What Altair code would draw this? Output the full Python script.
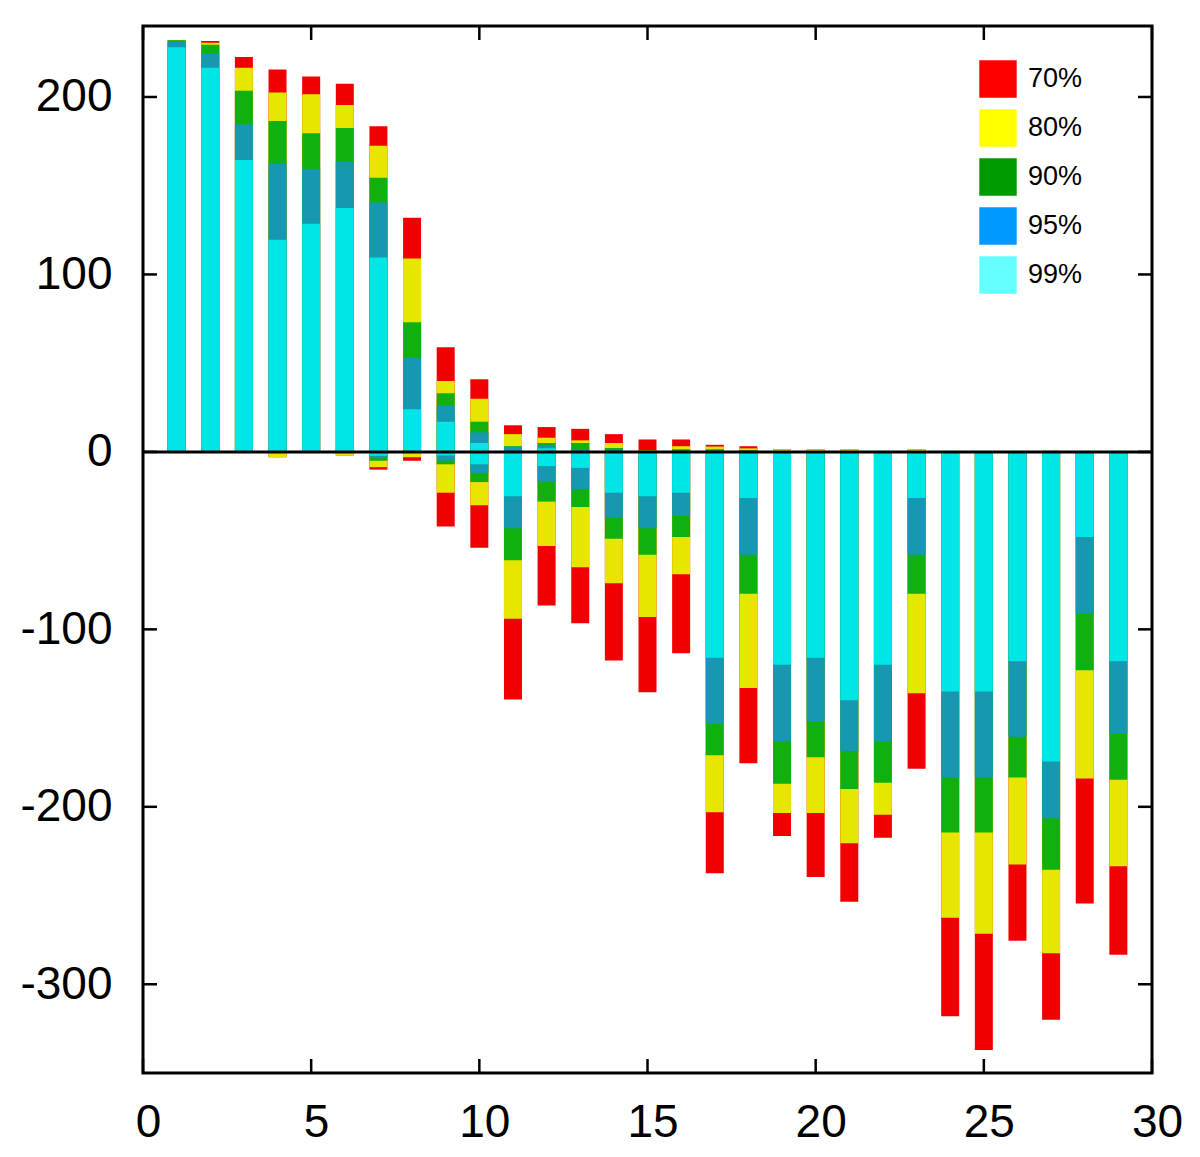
import altair as alt
import pandas as pd

# Bar positions (x)
positions = list(range(1, 30))

# Cumulative positive values (top of each band) per confidence level
pos99 = [228, 216.5, 164.5, 119.5, 128.5, 137.5, 109.5, 24, 17, 5, 0.5, 2, 0.5, 0.3, 0.3, 0.3, 0.5, 0.3, 0, 0, 0, 0, 0, 0, 0, 0, 0, 0, 0]
pos95 = [231, 224.5, 184.5, 162.5, 159.5, 163.5, 140.5, 53, 26, 11, 3, 3.5, 1.5, 1, 0.5, 0.8, 1, 0.5, 0, 0, 0, 0, 0, 0, 0, 0, 0, 0, 0]
pos90 = [232, 229.5, 203.5, 186.5, 179.5, 182.5, 154.5, 73, 33, 17, 3.2, 5, 5, 2.2, 0.7, 1.5, 1.5, 1, 0.3, 0.3, 0.3, 0, 0.3, 0, 0, 0, 0, 0, 0]
pos80 = [232, 230.5, 216.5, 202.5, 201.5, 195.5, 172.5, 109, 40, 30, 10, 8, 6.5, 5, 1, 3.2, 3, 2, 1.5, 1.5, 1.5, 0.5, 1.5, 0, 0, 0.3, 0.3, 0.5, 0]
pos70 = [232, 231.5, 222.5, 215.5, 211.5, 207.5, 183.5, 132, 59, 41, 15, 14, 13, 10, 7, 7, 4, 3.2, 1.5, 1.5, 1.5, 0.5, 1.5, 0, 0, 0.3, 0.6, 0.5, 0]

# Cumulative negative values per confidence level
neg99 = [0, 0, 0, 0, 0, 0, -2.2, 0, -2, -7, -25, -8, -9, -23, -25, -23, -116, -26, -120, -116, -140, -120, -26, -135, -135, -118, -174.5, -48, -118]
neg95 = [0, 0, 0, 0, 0, 0, -3.5, 0, -5, -12, -43, -17, -21, -37, -43, -36, -153, -58, -163, -152, -168.5, -163, -58, -183.5, -183.5, -160.5, -206.5, -91, -158.7]
neg90 = [0, 0, 0, 0, 0, 0, -5, 0, -7, -17, -61, -28, -31, -49, -58, -48, -171, -80, -187, -172, -190, -186.5, -80, -214.5, -214.5, -183.5, -235.5, -123, -184.7]
neg80 = [0, 0, 0, -3, 0, -2, -8.6, -3, -23, -30, -94, -53, -65, -74, -93, -69, -203, -133, -203.5, -203.5, -220.5, -204.5, -136, -262.5, -271.5, -232.5, -282.5, -184, -233.5]
neg70 = [0, 0, -0.5, -3, 0, -2, -10, -5, -42, -54, -139.5, -86.5, -96.5, -117.5, -135.5, -113.5, -237.5, -175.5, -216.5, -239.5, -253.5, -217.5, -178.5, -318, -337, -275.5, -320, -254.5, -283.3]

levels = ["70%", "80%", "90%", "95%", "99%"]
bar_colors = ["#f00000", "#e6e600", "#11b011", "#1598b0", "#00e6e6"]
legend_colors = ["#ff0000", "#ffff00", "#009900", "#0099ff", "#66ffff"]

x_ticks = [0, 5, 10, 15, 20, 25, 30]
y_ticks = [-300, -200, -100, 0, 100, 200]

W, H = 1009, 1047
FONT = "Liberation Sans"

xscale = alt.Scale(domain=[0, 30], nice=False, zero=False, padding=0)
yscale = alt.Scale(domain=[-350, 240], nice=False, zero=False, padding=0)

xaxis = alt.Axis(values=x_ticks, title=None, labelFontSize=46, labelFont=FONT,
                 labelColor="black", labelPadding=27, ticks=False, domain=False,
                 grid=False, labelFlush=False, labelOffset=5,
                 labelExpr="'' + datum.value")
yaxis = alt.Axis(values=y_ticks, title=None, labelFontSize=46, labelFont=FONT,
                 labelColor="black", labelPadding=31, ticks=False, domain=False,
                 grid=False, labelFlush=False, labelExpr="'' + datum.value")

series = {
    "70%": (pos70, neg70),
    "80%": (pos80, neg80),
    "90%": (pos90, neg90),
    "95%": (pos95, neg95),
    "99%": (pos99, neg99),
}

layers = []
for lvl, col in zip(levels, bar_colors):
    p, n = series[lvl]
    df = pd.DataFrame({
        "x": positions + positions,
        "v": p + n,
        "base": [0] * (2 * len(positions)),
    })
    layers.append(
        alt.Chart(df).mark_bar(size=18, color=col).encode(
            x=alt.X("x:Q", scale=xscale, axis=xaxis),
            y=alt.Y("v:Q", scale=yscale, axis=yaxis),
            y2="base:Q",
        )
    )

# zero line
zero = alt.Chart(pd.DataFrame({"z": [0]})).mark_rule(color="black", strokeWidth=3).encode(
    y=alt.Y("z:Q", scale=yscale, axis=yaxis)
)

# inward ticks on all four sides
ydf = pd.DataFrame({"t": y_ticks})
xdf = pd.DataFrame({"t": x_ticks})
TL = 14
TW = 2.5
tick_layers = [
    alt.Chart(ydf).mark_rule(color="black", strokeWidth=TW).encode(
        y=alt.Y("t:Q", scale=yscale, axis=yaxis), x=alt.value(0), x2=alt.value(TL)),
    alt.Chart(ydf).mark_rule(color="black", strokeWidth=TW).encode(
        y=alt.Y("t:Q", scale=yscale, axis=yaxis), x=alt.value(W - TL), x2=alt.value(W)),
    alt.Chart(xdf).mark_rule(color="black", strokeWidth=TW).encode(
        x=alt.X("t:Q", scale=xscale, axis=xaxis), y=alt.value(H - TL), y2=alt.value(H)),
    alt.Chart(xdf).mark_rule(color="black", strokeWidth=TW).encode(
        x=alt.X("t:Q", scale=xscale, axis=xaxis), y=alt.value(0), y2=alt.value(TL)),
]

# legend carrier (invisible marks)
legdf = pd.DataFrame({"level": levels, "x": [1] * 5, "v": [0] * 5})
legend_layer = alt.Chart(legdf).mark_square(opacity=0, filled=True).encode(
    x=alt.X("x:Q", scale=xscale, axis=xaxis),
    y=alt.Y("v:Q", scale=yscale, axis=yaxis),
    color=alt.Color("level:N",
                    scale=alt.Scale(domain=levels, range=legend_colors),
                    legend=alt.Legend(title=None, orient="none", legendX=836, legendY=34,
                                      symbolType="square", symbolSize=1400,
                                      symbolStrokeWidth=0, symbolOpacity=1,
                                      labelFontSize=27, labelFont=FONT, labelColor="black",
                                      labelOffset=11, rowPadding=11, padding=0)),
)

chart = alt.layer(*layers, zero, *tick_layers, legend_layer).properties(
    width=W, height=H,
    padding={"left": 135, "top": 18, "right": 40, "bottom": 80},
    autosize=alt.AutoSizeParams(type="none"),
    background="white",
).configure_view(
    stroke="black", strokeWidth=3
)

chart.save("out.html", embed_options={"renderer": "svg", "actions": False})
